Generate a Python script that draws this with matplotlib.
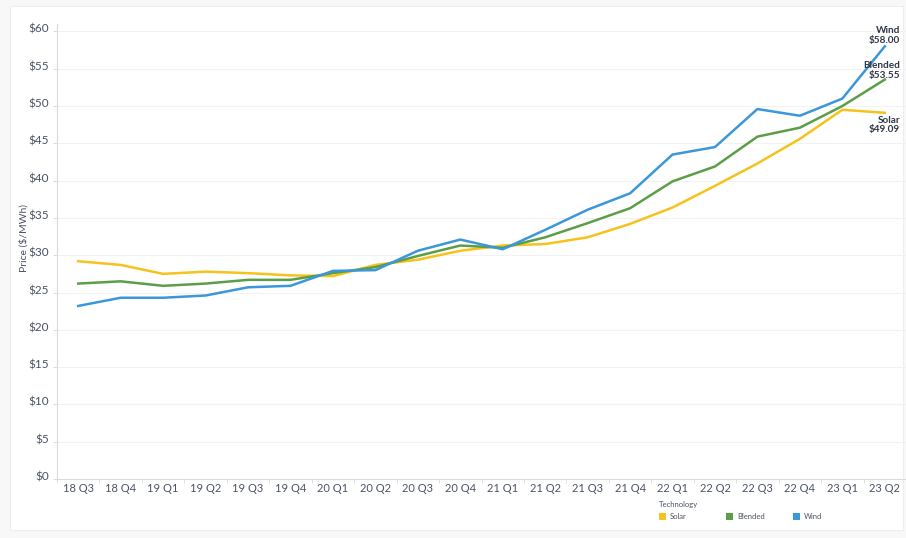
import matplotlib.pyplot as plt
import numpy as np
from matplotlib.patches import Rectangle
from matplotlib.transforms import ScaledTranslation

quarters = ["18 Q3", "18 Q4", "19 Q1", "19 Q2", "19 Q3", "19 Q4", "20 Q1", "20 Q2",
            "20 Q3", "20 Q4", "21 Q1", "21 Q2", "21 Q3", "21 Q4", "22 Q1", "22 Q2",
            "22 Q3", "22 Q4", "23 Q1", "23 Q2"]

solar = [29.2, 28.7, 27.5, 27.8, 27.6, 27.3, 27.2, 28.7, 29.4, 30.6,
         31.3, 31.5, 32.4, 34.2, 36.4, 39.3, 42.3, 45.6, 49.5, 49.09]
blended = [26.2, 26.5, 25.9, 26.2, 26.7, 26.7, 27.6, 28.4, 29.9, 31.3,
           31.0, 32.4, 34.3, 36.3, 39.9, 41.9, 45.9, 47.1, 50.0, 53.55]
wind = [23.2, 24.3, 24.3, 24.6, 25.7, 25.9, 27.9, 28.0, 30.6, 32.1,
        30.8, 33.4, 36.1, 38.3, 43.5, 44.5, 49.6, 48.7, 51.0, 58.00]

series = [("Solar", solar, "#f6c21c"), ("Blended", blended, "#5b9e47"), ("Wind", wind, "#3b97da")]
yticks = list(range(0, 61, 5))

plt.rcParams['font.family'] = ['Lato', 'DejaVu Sans']
text_col = "#4a5263"

fig = plt.figure(figsize=(9.06, 5.38), dpi=100)
fig.patch.set_facecolor("#f8f8f8")
fig.patches.append(Rectangle((10 / 906, 8 / 538), 893 / 906, 524 / 538, transform=fig.transFigure,
                             facecolor="white", edgecolor="#eeeeee", linewidth=0.8, zorder=-5))

ax = fig.add_axes([57 / 906, 59 / 538, 849 / 906, 455 / 538])
ax.patch.set_alpha(0)
x = np.arange(len(quarters))

for name, vals, col in series:
    ax.plot(x, vals, color=col, linewidth=1.8, solid_joinstyle="round")

ax.set_xlim(-0.5, len(quarters) - 0.5)
ax.set_ylim(0, 61)
ax.set_yticks(yticks)
ax.set_yticklabels([f"${v}" for v in yticks])
ax.set_xticks(x)
ax.set_xticklabels(quarters)
ax.set_xticks(np.arange(-0.5, len(quarters), 1), minor=True)
ax.tick_params(axis="x", which="major", length=0, pad=3, labelsize=8, labelcolor=text_col)
ax.tick_params(axis="x", which="minor", length=3, color="#d8dce2")
ax.tick_params(axis="y", length=3, color="#d8dce2", pad=3, labelsize=8.5, labelcolor=text_col)

# tick labels sit a touch above their gridlines in the original
shift = ScaledTranslation(0, 3 / 100, fig.dpi_scale_trans)
for lab in ax.get_yticklabels():
    lab.set_transform(lab.get_transform() + shift)

ax.grid(axis="y", color="#f2f2f2", linewidth=0.8)
ax.set_axisbelow(True)
for s in ["top", "right"]:
    ax.spines[s].set_visible(False)
ax.spines["left"].set_color("#d8dce2")
ax.spines["bottom"].set_color("#d8dce2")

ax.set_ylabel("Price ($/MWh)", fontsize=7.5, color=text_col, labelpad=0)
ax.yaxis.set_label_coords(-0.034, 0.53)

# end labels
last = len(quarters) - 1
offsets = {"Wind": (11, 1, "bottom"), "Blended": (11, 0, "bottom"), "Solar": (11, -2, "top")}
for name, vals, col in series:
    dx, dy, va = offsets[name]
    ax.annotate(f"{name}\n${vals[-1]:.2f}", xy=(last, vals[-1]), xytext=(dx, dy),
                textcoords="offset points", ha="right", va=va, fontsize=7.2, fontweight="bold",
                color="#2e3747", linespacing=1.1, annotation_clip=False)

# legend
fig.text(659 / 906, 1 - 505 / 538, "Technology", fontsize=5.5, color=text_col, va="center")
for i, (name, vals, col) in enumerate(series):
    lx = 659 + i * 67
    fig.patches.append(Rectangle((lx / 906, 1 - 520 / 538), 7 / 906, 7 / 538,
                                 transform=fig.transFigure, facecolor=col, edgecolor="none"))
    fig.text((lx + 11) / 906, 1 - 516.5 / 538, name, fontsize=5.5, color=text_col, va="center")

fig.savefig("out.png", dpi=100, facecolor=fig.get_facecolor())
